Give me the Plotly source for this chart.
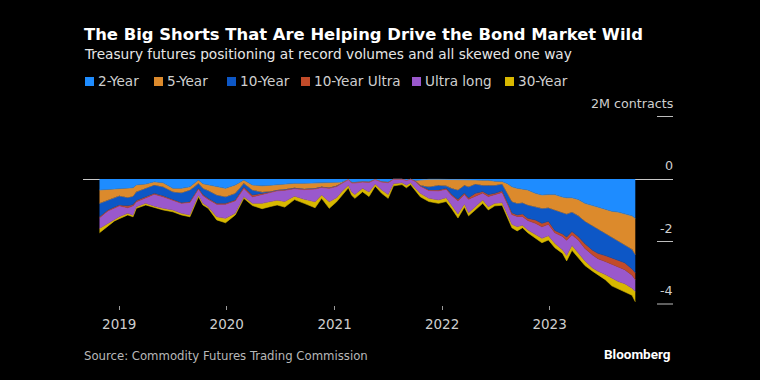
import plotly.graph_objects as go

dates = [
    "2018-10-26", "2018-11-24", "2018-12-16", "2019-01-01", "2019-01-30", "2019-02-17", "2019-02-28", "2019-04-01", "2019-04-30", "2019-05-30",
    "2019-07-02", "2019-07-31", "2019-08-29", "2019-09-13", "2019-09-27", "2019-10-12", "2019-10-30", "2019-11-28", "2019-12-28", "2020-01-30",
    "2020-02-28", "2020-03-28", "2020-04-30", "2020-05-29", "2020-06-20", "2020-07-16", "2020-08-18", "2020-09-20", "2020-10-27", "2020-11-18",
    "2020-12-14", "2021-01-08", "2021-01-26", "2021-02-17", "2021-02-28", "2021-03-11", "2021-04-06", "2021-04-28", "2021-05-19", "2021-06-10",
    "2021-07-02", "2021-07-20", "2021-08-18", "2021-09-02", "2021-09-16", "2021-10-01", "2021-10-19", "2021-11-17", "2021-12-20", "2022-01-15",
    "2022-02-03", "2022-02-24", "2022-03-18", "2022-04-01", "2022-04-24", "2022-05-19", "2022-06-07", "2022-06-29", "2022-07-24", "2022-08-11",
    "2022-08-26", "2022-09-13", "2022-10-01", "2022-10-19", "2022-11-14", "2022-12-06", "2022-12-28", "2023-01-19", "2023-02-14", "2023-02-28",
    "2023-03-18", "2023-04-09", "2023-05-01", "2023-05-27", "2023-06-14", "2023-07-09", "2023-07-31", "2023-08-22", "2023-09-13", "2023-10-08",
    "2023-10-19",
]

# Net positioning, millions of contracts
two_year = [
    -0.35, -0.33, -0.32, -0.30, -0.30, -0.28, -0.19, -0.16, -0.09, -0.12,
    -0.30, -0.30, -0.25, -0.15, -0.03, -0.15, -0.19, -0.25, -0.30, -0.19,
    -0.03, -0.19, -0.22, -0.20, -0.18, -0.17, -0.14, -0.14, -0.13, -0.12,
    -0.13, -0.12, -0.10, -0.02, -0.10, -0.10, -0.08, -0.09, -0.02, -0.08,
    -0.10, -0.01, -0.01, -0.05, -0.01, -0.05, -0.03, -0.01, -0.01, -0.01,
    -0.02, -0.02, -0.02, -0.03, -0.03, -0.04, -0.04, -0.07, -0.08, -0.15,
    -0.25, -0.30, -0.33, -0.35, -0.46, -0.51, -0.50, -0.50, -0.58, -0.60,
    -0.60, -0.66, -0.78, -0.84, -0.90, -0.97, -1.03, -1.06, -1.12, -1.18,
    -1.26,
]
five_year = [
    -0.43, -0.34, -0.28, -0.24, -0.29, -0.27, -0.22, -0.14, -0.10, -0.13,
    -0.11, -0.14, -0.10, -0.10, -0.11, -0.15, -0.18, -0.26, -0.27, -0.27,
    -0.11, -0.16, -0.20, -0.20, -0.17, -0.16, -0.14, -0.18, -0.17, -0.13,
    -0.15, -0.10, -0.04, 0.00, -0.02, -0.02, -0.01, -0.01, 0.00, -0.01,
    -0.01, 0.00, 0.00, 0.00, 0.00, -0.01, -0.17, -0.24, -0.19, -0.21,
    -0.28, -0.33, -0.18, -0.22, -0.13, -0.16, -0.16, -0.13, -0.08, -0.30,
    -0.47, -0.48, -0.43, -0.48, -0.43, -0.43, -0.42, -0.50, -0.50, -0.52,
    -0.46, -0.52, -0.57, -0.66, -0.70, -0.75, -0.82, -0.94, -0.98, -1.07,
    -1.16,
]
ten_year = [
    -0.43, -0.32, -0.30, -0.29, -0.27, -0.27, -0.28, -0.27, -0.27, -0.29,
    -0.26, -0.32, -0.38, -0.25, -0.16, -0.20, -0.25, -0.27, -0.21, -0.21,
    -0.11, -0.16, -0.05, -0.02, -0.02, -0.02, -0.02, -0.01, -0.01, -0.01,
    -0.01, -0.01, -0.01, 0.00, 0.00, 0.00, 0.00, 0.00, 0.00, 0.00,
    0.00, 0.00, 0.00, 0.00, 0.00, 0.00, -0.02, -0.10, -0.15, -0.08,
    -0.20, -0.30, -0.25, -0.35, -0.30, -0.20, -0.30, -0.26, -0.22, -0.30,
    -0.36, -0.37, -0.36, -0.43, -0.42, -0.48, -0.43, -0.65, -0.68, -0.74,
    -0.62, -0.67, -0.72, -0.78, -0.78, -0.73, -0.67, -0.60, -0.58, -0.63,
    -0.58,
]
ten_year_ultra = [
    -0.03, -0.03, -0.03, -0.03, -0.06, -0.04, -0.04, -0.03, -0.03, -0.03,
    -0.02, -0.02, -0.02, -0.02, -0.02, -0.03, -0.03, -0.03, -0.03, -0.03,
    -0.05, -0.06, -0.02, -0.01, -0.01, -0.01, -0.01, -0.01, -0.01, -0.01,
    -0.01, -0.01, 0.00, 0.00, -0.01, -0.01, -0.01, -0.01, 0.00, -0.01,
    -0.01, 0.00, 0.00, 0.00, 0.00, -0.01, -0.01, -0.02, -0.03, -0.03,
    -0.03, -0.05, -0.05, -0.05, -0.09, -0.05, -0.06, -0.05, -0.05, -0.05,
    -0.06, -0.05, -0.08, -0.07, -0.11, -0.11, -0.10, -0.07, -0.08, -0.10,
    -0.10, -0.11, -0.15, -0.15, -0.17, -0.19, -0.20, -0.22, -0.22, -0.20,
    -0.22,
]
ultra_long = [
    -0.34, -0.40, -0.35, -0.35, -0.18, -0.30, -0.16, -0.18, -0.38, -0.37,
    -0.30, -0.32, -0.40, -0.28, -0.19, -0.25, -0.24, -0.40, -0.45, -0.40,
    -0.27, -0.21, -0.29, -0.29, -0.30, -0.36, -0.24, -0.31, -0.41, -0.24,
    -0.43, -0.36, -0.25, -0.18, -0.29, -0.37, -0.20, -0.31, -0.14, -0.25,
    -0.38, -0.14, -0.11, -0.15, -0.11, -0.21, -0.23, -0.25, -0.29, -0.27,
    -0.32, -0.42, -0.30, -0.43, -0.34, -0.22, -0.33, -0.27, -0.33, -0.32,
    -0.31, -0.33, -0.28, -0.30, -0.37, -0.37, -0.37, -0.34, -0.43, -0.49,
    -0.35, -0.42, -0.40, -0.42, -0.40, -0.42, -0.46, -0.46, -0.45, -0.42,
    -0.38,
]
thirty_year = [
    -0.14, -0.08, -0.06, -0.06, -0.05, -0.05, -0.05, -0.05, -0.05, -0.05,
    -0.06, -0.05, -0.06, -0.05, -0.06, -0.05, -0.05, -0.10, -0.14, -0.05,
    -0.05, -0.07, -0.17, -0.16, -0.15, -0.18, -0.11, -0.13, -0.19, -0.11,
    -0.21, -0.13, -0.11, -0.08, -0.10, -0.12, -0.11, -0.14, -0.07, -0.11,
    -0.12, -0.07, -0.06, -0.08, -0.06, -0.08, -0.11, -0.10, -0.11, -0.12,
    -0.10, -0.13, -0.10, -0.10, -0.10, -0.11, -0.10, -0.08, -0.08, -0.10,
    -0.11, -0.13, -0.08, -0.09, -0.11, -0.14, -0.13, -0.14, -0.11, -0.17,
    -0.15, -0.14, -0.15, -0.10, -0.11, -0.16, -0.24, -0.24, -0.25, -0.22,
    -0.33,
]

series_names = ["2-Year", "5-Year", "10-Year", "10-Year Ultra", "Ultra long", "30-Year"]
series_values = [two_year, five_year, ten_year, ten_year_ultra, ultra_long, thirty_year]
series_colors = ["#1e8cff", "#dc8a2c", "#0d57c6", "#c24b29", "#9a58cc", "#d8b800"]

y_tick_vals = [2, 0, -2, -4]
y_tick_text = ["2M contracts", "0", "-2", "-4"]
x_tick_vals = ["2019-01-01", "2020-01-01", "2021-01-01", "2022-01-01", "2023-01-01"]
x_tick_text = ["2019", "2020", "2021", "2022", "2023"]

W, H = 760, 380
ML, MR, MT, MB = 83, 87, 100, 75
PW, PH = W - ML - MR, H - MT - MB


def px_x(px):
    return (px - ML) / PW


def px_y(py):
    return (H - MB - py) / PH


FONT = "DejaVu Sans"
COND = "DejaVu Sans Condensed, DejaVu Sans"

fig = go.Figure()
for name, vals, col in zip(series_names, series_values, series_colors):
    fig.add_trace(go.Scatter(
        x=dates, y=vals, name=name, mode="lines", stackgroup="pos",
        line=dict(width=0.6, color=col), fillcolor=col,
        showlegend=False, hoverinfo="skip",
    ))

shapes = []
annotations = []

# right-side value ticks (label above a short line)
for v, t in zip(y_tick_vals, y_tick_text):
    if v != 0:
        shapes.append(dict(type="line", xref="paper", yref="y", x0=px_x(657), x1=1.0,
                           y0=v, y1=v, line=dict(color="#bdbdbd", width=1)))
    annotations.append(dict(xref="paper", yref="y", x=1.0, y=v, text=t, showarrow=False,
                            xanchor="right", yanchor="bottom", yshift=4, xshift=2,
                            font=dict(family=FONT, size=12.7, color="#cfcfcf")))

# legend
leg_sq = [85, 154, 227, 301, 412, 505]
for name, col, sx in zip(series_names, series_colors, leg_sq):
    shapes.append(dict(type="rect", xref="paper", yref="paper",
                       x0=px_x(sx), x1=px_x(sx + 9), y0=px_y(86), y1=px_y(77),
                       fillcolor=col, line=dict(width=0)))
    annotations.append(dict(xref="paper", yref="paper", x=px_x(sx + 11), y=px_y(81.5),
                            text=name, showarrow=False, xanchor="left", yanchor="middle",
                            font=dict(family=FONT, size=13.6, color="#cfcfcf")))

annotations += [
    dict(xref="paper", yref="paper", x=px_x(82), y=px_y(35),
         text="<b>The Big Shorts That Are Helping Drive the Bond Market Wild</b>",
         showarrow=False, xanchor="left", yanchor="middle",
         font=dict(family=FONT, size=16.4, color="#ffffff")),
    dict(xref="paper", yref="paper", x=px_x(82), y=px_y(54),
         text="Treasury futures positioning at record volumes and all skewed one way",
         showarrow=False, xanchor="left", yanchor="middle",
         font=dict(family=FONT, size=13.7, color="#e6e6e6")),
    dict(xref="paper", yref="paper", x=px_x(82), y=px_y(355),
         text="Source: Commodity Futures Trading Commission",
         showarrow=False, xanchor="left", yanchor="middle",
         font=dict(family=COND, size=13, color="#b8b8b8")),
    dict(xref="paper", yref="paper", x=px_x(673), y=px_y(354),
         text="<b>Bloomberg</b>", showarrow=False, xanchor="right", yanchor="middle",
         font=dict(family="Roboto", size=13.5, color="#ffffff")),
]

fig.update_layout(
    width=W, height=H,
    margin=dict(l=ML, r=MR, t=MT, b=MB, pad=0),
    paper_bgcolor="#000000", plot_bgcolor="#000000",
    showlegend=False,
    shapes=shapes, annotations=annotations,
    font=dict(family=FONT, color="#cfcfcf"),
    xaxis=dict(
        type="date", range=["2018-08-31", "2024-02-24"],
        tickvals=x_tick_vals, ticktext=x_tick_text,
        ticks="outside", ticklen=4, tickwidth=1, tickcolor="#9a9a9a",
        ticklabelstandoff=3,
        tickfont=dict(family=FONT, size=13.5, color="#cfcfcf"),
        showgrid=False, zeroline=False, showline=False, fixedrange=True,
    ),
    yaxis=dict(
        range=[-4.032, 2.528], showticklabels=False, ticks="",
        showgrid=False, zeroline=True, zerolinecolor="#c8c8c8", zerolinewidth=1,
        showline=False, fixedrange=True,
    ),
)

fig.write_html(
    "out.html",
    config={"displayModeBar": False},
    post_script="document.body.style.margin='0';document.body.style.background='#000';",
)
